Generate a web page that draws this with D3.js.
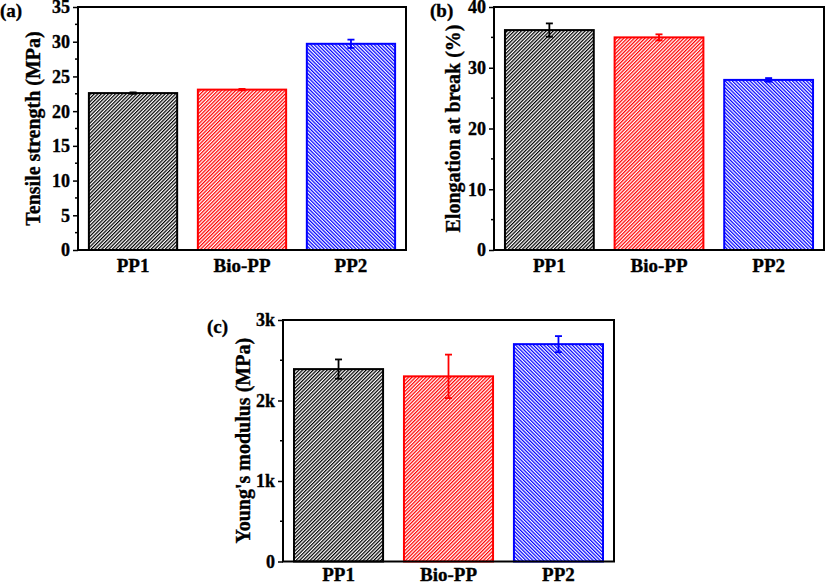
<!DOCTYPE html>
<html>
<head>
<meta charset="utf-8">
<script src="https://cdn.jsdelivr.net/npm/d3@7/dist/d3.min.js"></script>
<style>
  html, body { margin: 0; padding: 0; background: #fff; }
  svg { display: block; }
  text { font-family: "Liberation Serif", "Times New Roman", serif; font-weight: bold; fill: #000; stroke: #000; stroke-width: 0.35px; }
</style>
</head>
<body>
<svg id="chart" width="827" height="585"></svg>
<script>
// ---- Data ----
const categories = ["PP1", "Bio-PP", "PP2"];
const colors = ["#000000", "#ff0000", "#0000ff"];
const hatchAngles = [45, 45, -45];

const tensile = [22.6, 23.1, 29.7];
const tensileErr = [0.1, 0.1, 0.6];
const tensileTicks = [0, 5, 10, 15, 20, 25, 30, 35];
const tensileTickLabels = ["0", "5", "10", "15", "20", "25", "30", "35"];

const elongation = [36.2, 35.0, 28.0];
const elongationErr = [1.1, 0.5, 0.3];
const elongationTicks = [0, 10, 20, 30, 40];
const elongationTickLabels = ["0", "10", "20", "30", "40"];

const modulus = [2390, 2300, 2700];
const modulusErr = [120, 270, 100];
const modulusTicks = [0, 1000, 2000, 3000];
const modulusTickLabels = ["0", "1k", "2k", "3k"];

const svg = d3.select("#chart");
const defs = svg.append("defs");

colors.forEach((c, i) => {
  const p = defs.append("pattern")
    .attr("id", "hatch" + i)
    .attr("patternUnits", "userSpaceOnUse")
    .attr("width", 2.5).attr("height", 2.5)
    .attr("patternTransform", `rotate(${hatchAngles[i]})`);
  p.append("rect").attr("width", 2.5).attr("height", 2.5).attr("fill", "#fff");
  p.append("line").attr("x1", 0.6).attr("y1", 0).attr("x2", 0.6).attr("y2", 2.5)
    .attr("stroke", c).attr("stroke-width", 1.25);
});

function styleText(sel, size) {
  sel.attr("font-size", size)
    .attr("font-family", "Liberation Serif, Times New Roman, serif")
    .attr("font-weight", "bold")
    .attr("fill", "#000");
}

function drawPanel(cfg) {
  const { left, top, right, bottom, values, errs, ticks, tickLabels, domainMax, title, tag, tagX, tagY, titleX, xPad } = cfg;
  const g = svg.append("g");
  const x = d3.scaleBand().domain(categories).range([left, right]).paddingInner(0.19).paddingOuter(0.1);
  const y = d3.scaleLinear().domain([0, domainMax]).range([bottom, top]);

  // minor ticks
  const step = ticks[1] - ticks[0];
  const minor = d3.range(ticks[0] + step / 2, domainMax, step);
  g.selectAll(".minor").data(minor).join("line")
    .attr("x1", left - 3).attr("x2", left).attr("y1", d => y(d)).attr("y2", d => y(d))
    .attr("stroke", "#000").attr("stroke-width", 1.5);

  // y axis
  const yAxis = d3.axisLeft(y).tickValues(ticks).tickFormat((d, i) => tickLabels[i]).tickSize(5).tickPadding(3);
  const ya = g.append("g").attr("transform", `translate(${left},0)`).call(yAxis);
  ya.select(".domain").remove();
  ya.selectAll(".tick line").attr("stroke", "#000").attr("stroke-width", 1.5);
  styleText(ya.selectAll(".tick text"), 18);
  ya.selectAll(".tick text").attr("dy", "0.33em");

  // bars
  g.selectAll(".bar").data(categories).join("rect")
    .attr("x", d => x(d)).attr("width", x.bandwidth())
    .attr("y", (d, i) => y(values[i])).attr("height", (d, i) => bottom - y(values[i]))
    .attr("fill", (d, i) => `url(#hatch${i})`)
    .attr("stroke", (d, i) => colors[i]).attr("stroke-width", 2);

  // error bars
  const eb = g.selectAll(".err").data(categories).join("g");
  eb.append("line")
    .attr("x1", d => x(d) + x.bandwidth() / 2).attr("x2", d => x(d) + x.bandwidth() / 2)
    .attr("y1", (d, i) => y(values[i] - errs[i])).attr("y2", (d, i) => y(values[i] + errs[i]))
    .attr("stroke", (d, i) => colors[i]).attr("stroke-width", 1.8);
  [1, -1].forEach(s => {
    eb.append("line")
      .attr("x1", d => x(d) + x.bandwidth() / 2 - 3.5).attr("x2", d => x(d) + x.bandwidth() / 2 + 3.5)
      .attr("y1", (d, i) => y(values[i] + s * errs[i])).attr("y2", (d, i) => y(values[i] + s * errs[i]))
      .attr("stroke", (d, i) => colors[i]).attr("stroke-width", 1.8);
  });

  // frame
  g.append("rect").attr("x", left).attr("y", top).attr("width", right - left).attr("height", bottom - top)
    .attr("fill", "none").attr("stroke", "#000").attr("stroke-width", 2);

  // x labels
  const xAxis = d3.axisBottom(x).tickSize(0).tickPadding(xPad);
  const xa = g.append("g").attr("transform", `translate(0,${bottom})`).call(xAxis);
  xa.select(".domain").remove();
  styleText(xa.selectAll(".tick text"), 19);

  // y title
  g.append("text").attr("transform", `translate(${titleX},${(top + bottom) / 2}) rotate(-90)`)
    .attr("text-anchor", "middle").attr("dy", "0.35em").attr("font-size", 20).text(title);

  // panel tag
  g.append("text").attr("x", tagX).attr("y", tagY).attr("font-size", 19).text(tag);
}

drawPanel({ left: 78, top: 7, right: 406, bottom: 250, values: tensile, errs: tensileErr,
  ticks: tensileTicks, tickLabels: tensileTickLabels, domainMax: 35,
  title: "Tensile strength (MPa)", tag: "(a)", tagX: 0, tagY: 17, titleX: 33, xPad: 9 });

drawPanel({ left: 494, top: 7, right: 824, bottom: 250, values: elongation, errs: elongationErr,
  ticks: elongationTicks, tickLabels: elongationTickLabels, domainMax: 40,
  title: "Elongation at break (%)", tag: "(b)", tagX: 430, tagY: 17, titleX: 453, xPad: 9 });

drawPanel({ left: 283, top: 320, right: 614, bottom: 561.5, values: modulus, errs: modulusErr,
  ticks: modulusTicks, tickLabels: modulusTickLabels, domainMax: 3000,
  title: "Young's modulus (MPa)", tag: "(c)", tagX: 207, tagY: 333, titleX: 243, xPad: 6 });
</script>
</body>
</html>
